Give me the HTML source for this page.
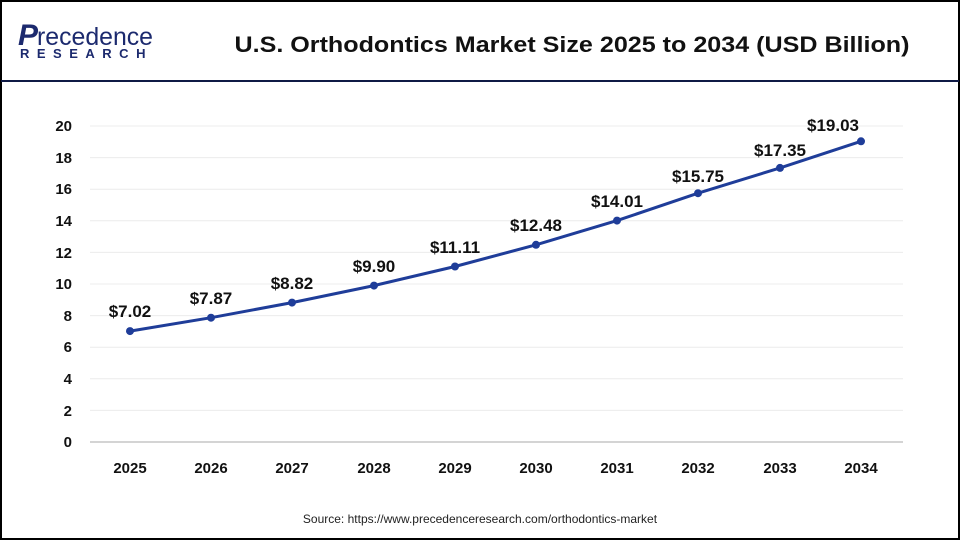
<!DOCTYPE html>
<html><head><style>
body{margin:0;background:#fff}
svg text{font-family:"Liberation Sans",Arial,sans-serif}
</style></head><body>
<svg width="960" height="540" viewBox="0 0 960 540" xmlns="http://www.w3.org/2000/svg">
<rect x="1" y="1" width="958" height="538" fill="#fff" stroke="#000" stroke-width="2"/>
<line x1="1" y1="81" x2="959" y2="81" stroke="#0f1a45" stroke-width="2"/>
<text x="18" y="45" font-size="30" fill="#1c2a6e" font-weight="bold" font-style="italic">P</text>
<text x="37" y="45" font-size="25" fill="#1c2a6e" textLength="116" lengthAdjust="spacingAndGlyphs">recedence</text>
<text x="20" y="58" font-size="13" fill="#1c2a6e" font-weight="bold" letter-spacing="7.5">RESEARCH</text>
<text x="572" y="52" font-size="22" font-weight="bold" text-anchor="middle" fill="#111" textLength="675" lengthAdjust="spacingAndGlyphs">U.S. Orthodontics Market Size 2025 to 2034 (USD Billion)</text>
<g stroke="#ececec" stroke-width="1">
<line x1="90" x2="903" y1="126" y2="126"/><line x1="90" x2="903" y1="157.6" y2="157.6"/><line x1="90" x2="903" y1="189.2" y2="189.2"/><line x1="90" x2="903" y1="220.8" y2="220.8"/><line x1="90" x2="903" y1="252.4" y2="252.4"/><line x1="90" x2="903" y1="284" y2="284"/><line x1="90" x2="903" y1="315.6" y2="315.6"/><line x1="90" x2="903" y1="347.2" y2="347.2"/><line x1="90" x2="903" y1="378.8" y2="378.8"/><line x1="90" x2="903" y1="410.4" y2="410.4"/>
</g>
<line x1="90" x2="903" y1="442" y2="442" stroke="#aaa" stroke-width="1"/>
<g font-size="15" font-weight="bold" text-anchor="end" fill="#111">
<text x="72" y="131">20</text><text x="72" y="163">18</text><text x="72" y="194">16</text><text x="72" y="226">14</text><text x="72" y="258">12</text><text x="72" y="289">10</text><text x="72" y="321">8</text><text x="72" y="352">6</text><text x="72" y="384">4</text><text x="72" y="416">2</text><text x="72" y="447">0</text>
</g>
<g font-size="15" font-weight="bold" text-anchor="middle" fill="#111">
<text x="130" y="473">2025</text><text x="211" y="473">2026</text><text x="292" y="473">2027</text><text x="374" y="473">2028</text><text x="455" y="473">2029</text><text x="536" y="473">2030</text><text x="617" y="473">2031</text><text x="698" y="473">2032</text><text x="780" y="473">2033</text><text x="861" y="473">2034</text>
</g>
<polyline fill="none" stroke="#1f3d99" stroke-width="3" points="130,331.1 211,317.7 292,302.6 374,285.6 455,266.5 536,244.8 617,220.6 698,193.2 780,167.9 861,141.3"/>
<g fill="#1f3d99">
<circle cx="130" cy="331.1" r="4"/><circle cx="211" cy="317.7" r="4"/><circle cx="292" cy="302.6" r="4"/><circle cx="374" cy="285.6" r="4"/><circle cx="455" cy="266.5" r="4"/><circle cx="536" cy="244.8" r="4"/><circle cx="617" cy="220.6" r="4"/><circle cx="698" cy="193.2" r="4"/><circle cx="780" cy="167.9" r="4"/><circle cx="861" cy="141.3" r="4"/>
</g>
<g font-size="17" font-weight="bold" text-anchor="middle" fill="#111">
<text x="130" y="317">$7.02</text><text x="211" y="304">$7.87</text><text x="292" y="289">$8.82</text><text x="374" y="272">$9.90</text><text x="455" y="253">$11.11</text><text x="536" y="231">$12.48</text><text x="617" y="207">$14.01</text><text x="698" y="182">$15.75</text><text x="780" y="156">$17.35</text><text x="833" y="131">$19.03</text>
</g>
<text x="480" y="523" font-size="12" text-anchor="middle" fill="#222">Source: https://www.precedenceresearch.com/orthodontics-market</text>
</svg>
</body></html>
